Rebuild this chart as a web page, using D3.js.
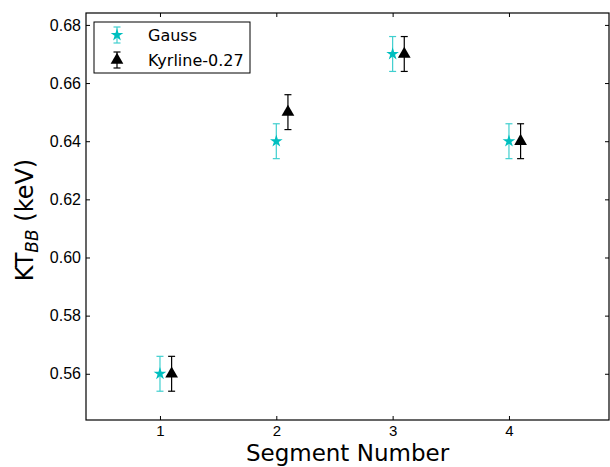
<!DOCTYPE html>
<html>
<head>
<meta charset="utf-8">
<script src="https://cdn.jsdelivr.net/npm/d3@7"></script>
<style>
  body { margin: 0; background: #fff; }
  svg { font-family: "DejaVu Sans", sans-serif; }
</style>
</head>
<body>
<svg id="chart" width="610" height="467"></svg>
<script>
// Blackbody temperature per segment for two line models
const segments = [1, 2, 3, 4];
const gaussKT = [0.56, 0.64, 0.67, 0.64];
const gaussErr = [0.006, 0.006, 0.006, 0.006];
const kyrlineKT = [0.56, 0.65, 0.67, 0.64];
const kyrlineErr = [0.006, 0.006, 0.006, 0.006];
const kyrlineOffset = 0.1;
const yTicks = [0.56, 0.58, 0.60, 0.62, 0.64, 0.66, 0.68];

const svg = d3.select("#chart");
const m = { left: 86, right: 609, top: 13, bottom: 420 };

const x = d3.scaleLinear().domain([0.364, 4.86]).range([m.left, m.right]);
const y = d3.scaleLinear().domain([0.5441, 0.6841]).range([m.bottom, m.top]);

const cyan = "#00bfbf";
const tickLen = 4;

// Frame
svg.append("rect")
  .attr("x", m.left).attr("y", m.top)
  .attr("width", m.right - m.left).attr("height", m.bottom - m.top)
  .attr("fill", "none").attr("stroke", "#000").attr("stroke-width", 1.2);

// Axes with inward ticks
const fmt = d3.format(".2f");
const bottomAxis = d3.axisBottom(x).tickValues(segments).tickFormat(d3.format("d"))
  .tickSizeInner(-tickLen).tickSizeOuter(0).tickPadding(5);
const topAxis = d3.axisTop(x).tickValues(segments).tickFormat("")
  .tickSizeInner(-tickLen).tickSizeOuter(0);
const leftAxis = d3.axisLeft(y).tickValues(yTicks).tickFormat(fmt)
  .tickSizeInner(-tickLen).tickSizeOuter(0).tickPadding(5);
const rightAxis = d3.axisRight(y).tickValues(yTicks).tickFormat("")
  .tickSizeInner(-tickLen).tickSizeOuter(0);

function styleAxis(g, size) {
  g.select(".domain").remove();
  g.selectAll(".tick line").attr("stroke", "#000").attr("stroke-width", 1);
  g.selectAll(".tick text").attr("fill", "#000").style("font-size", size + "px");
}

svg.append("g").attr("transform", `translate(0,${m.bottom})`).call(bottomAxis).call(styleAxis, 15);
svg.append("g").attr("transform", `translate(0,${m.top})`).call(topAxis).call(styleAxis, 15);
svg.append("g").attr("transform", `translate(${m.left},0)`).call(leftAxis).call(styleAxis, 16);
svg.append("g").attr("transform", `translate(${m.right},0)`).call(rightAxis).call(styleAxis, 16);

// Axis labels
svg.append("text")
  .attr("x", (m.left + m.right) / 2).attr("y", 461)
  .attr("text-anchor", "middle").style("font-size", "23px").attr("fill", "#000")
  .text("Segment Number");

const yl = svg.append("text")
  .attr("transform", `translate(33,220) rotate(-90)`)
  .attr("text-anchor", "middle").style("font-size", "24px").attr("fill", "#000");
yl.append("tspan").text("KT");
yl.append("tspan").attr("dy", 5).style("font-size", "17px").style("font-style", "italic").text("BB");
yl.append("tspan").attr("dy", -5).text(" (keV)");

// Error bar series
const star = d3.symbol().type(d3.symbolStar).size(50);
const tri = d3.symbol().type(d3.symbolTriangle).size(70);

function drawSeries(g, xs, vals, errs, color, sym, barOpacity) {
  const cap = 3.5;
  vals.forEach((v, i) => {
    const cx = x(xs[i]);
    const y0 = y(v - errs[i]), y1 = y(v + errs[i]);
    const bars = g.append("g").attr("stroke", color).attr("stroke-width", 1.2).attr("opacity", barOpacity);
    bars.append("line").attr("x1", cx).attr("x2", cx).attr("y1", y0).attr("y2", y1);
    bars.append("line").attr("x1", cx - cap).attr("x2", cx + cap).attr("y1", y0).attr("y2", y0);
    bars.append("line").attr("x1", cx - cap).attr("x2", cx + cap).attr("y1", y1).attr("y2", y1);
    g.append("path").attr("d", sym).attr("fill", color)
      .attr("transform", `translate(${cx},${y(v)})`);
  });
}

const plot = svg.append("g");
drawSeries(plot, segments, gaussKT, gaussErr, cyan, star, 0.75);
drawSeries(plot, segments.map(s => s + kyrlineOffset), kyrlineKT, kyrlineErr, "#000", tri, 1);

// Legend
const lg = svg.append("g");
lg.append("rect").attr("x", 94).attr("y", 22).attr("width", 156).attr("height", 51)
  .attr("fill", "#fff").attr("stroke", "#000").attr("stroke-width", 1);
const legendItems = [
  { label: "Gauss", color: cyan, sym: star, op: 0.75, yy: 35 },
  { label: "Kyrline-0.27", color: "#000", sym: tri, op: 1, yy: 60 }
];
legendItems.forEach(it => {
  const cx = 117, cap = 3.5, h = 8;
  const b = lg.append("g").attr("stroke", it.color).attr("stroke-width", 1.2).attr("opacity", it.op);
  b.append("line").attr("x1", cx).attr("x2", cx).attr("y1", it.yy - h).attr("y2", it.yy + h);
  b.append("line").attr("x1", cx - cap).attr("x2", cx + cap).attr("y1", it.yy - h).attr("y2", it.yy - h);
  b.append("line").attr("x1", cx - cap).attr("x2", cx + cap).attr("y1", it.yy + h).attr("y2", it.yy + h);
  lg.append("path").attr("d", it.sym).attr("fill", it.color).attr("transform", `translate(${cx},${it.yy})`);
  lg.append("text").attr("x", 148).attr("y", it.yy + 6).style("font-size", "16px").attr("fill", "#000").text(it.label);
});
</script>
</body>
</html>
